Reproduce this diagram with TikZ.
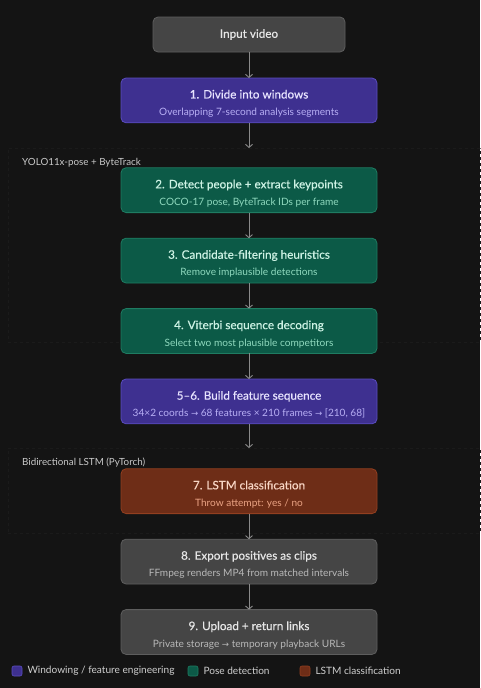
\documentclass[tikz,border=0pt]{standalone}
\usepackage{xcolor}
\usepackage{fontspec}
\setmainfont{Lato}
\newfontfamily\titlefont{Lato}[FakeBold=0.5]
\newfontfamily\symfont{DejaVu Sans}
\usetikzlibrary{positioning, arrows.meta, calc}
\newcommand{\toarr}{{\symfont\fontsize{8.6}{10}\selectfont →}}

\definecolor{bgcol}{HTML}{141414}
\definecolor{grpline}{HTML}{1B1B1B}
\definecolor{grplabel}{HTML}{C9C9C9}
\definecolor{arrcol}{HTML}{8A8A8A}
\definecolor{greyfill}{HTML}{454545}
\definecolor{greydraw}{HTML}{5E5E5E}
\definecolor{greytitle}{HTML}{E6E6E6}
\definecolor{greytitlesub}{HTML}{B8B8B8}
\definecolor{winfill}{HTML}{3E3090}
\definecolor{windraw}{HTML}{5B4DC0}
\definecolor{wintitle}{HTML}{E8E4FF}
\definecolor{wintitlesub}{HTML}{B7AEF4}
\definecolor{posefill}{HTML}{0C5A47}
\definecolor{posedraw}{HTML}{1F7C62}
\definecolor{posetitle}{HTML}{CDF2E4}
\definecolor{posetitlesub}{HTML}{8FD9BE}
\definecolor{lstmfill}{HTML}{6E2D17}
\definecolor{lstmdraw}{HTML}{923F20}
\definecolor{lstmtitle}{HTML}{F8D5C4}
\definecolor{lstmtitlesub}{HTML}{EAA283}

\newcommand{\steptext}[3]{{\titlefont\fontsize{11.7}{14}\selectfont\color{#1}\rule{0pt}{15pt}#2}\\[5pt]{\fontsize{10.1}{12}\selectfont\color{#1sub}#3}}

\begin{document}
\begin{tikzpicture}[
    x = 1pt, y = 1pt, align = center,
    box/.style = {
      rectangle, rounded corners = 5pt, line width = 0.8pt,
      minimum width = 256pt, minimum height = 44.8pt,
      inner sep = 0pt, outer sep = 0pt
    },
    plain/.style = {box, fill = greyfill, draw = greydraw},
    windowing/.style = {box, fill = winfill, draw = windraw},
    pose/.style = {box, fill = posefill, draw = posedraw},
    lstm/.style = {box, fill = lstmfill, draw = lstmdraw},
    group/.style = {
      rectangle, draw = grpline, dashed, line width = 0.6pt,
      anchor = north west, inner sep = 0pt, outer sep = 0pt
    },
    grouplabel/.style = {
      anchor = west, inner sep = 0pt, text = grplabel,
      font = \fontsize{9.8}{12}\selectfont
    },
    flow/.style = {
      draw = arrcol, line width = 0.9pt,
      -{Straight Barb[length = 3pt, width = 7pt]}
    },
    swatch/.style = {
      rectangle, rounded corners = 2pt, minimum size = 10pt,
      inner sep = 0pt, line width = 0.6pt
    },
    legtext/.style = {
      anchor = west, inner sep = 0pt, text = greytitle!90!black,
      font = \fontsize{10.1}{12}\selectfont
    },
    ]
\fill [bgcol] (0,0) rectangle (480,-688);
\useasboundingbox (0,0) rectangle (480,-688);

% groups
\node  [group, minimum width = 472pt, minimum height = 194pt]  (grp_pose)  at (8,-148)  {};
\node  [group, minimum width = 472pt, minimum height = 85pt]  (grp_lstm)  at (8,-448)  {};
\node  [grouplabel]  (lab_pose)  at ($(grp_pose.north west)+(14,-15)$)  {YOLO11x-pose + ByteTrack};
\node  [grouplabel]  (lab_lstm)  at ($(grp_lstm.north west)+(14,-15)$)  {Bidirectional LSTM (PyTorch)};

% steps
\node  [plain, minimum width = 192pt, minimum height = 35pt, font = \titlefont\fontsize{11.7}{14}\selectfont, text = greytitle]  (input)  at (249,-34.5)  {Input video};
\node  [windowing]  (divide)  [below = 26pt of input]
  {\steptext{wintitle}{1. Divide into windows}{Overlapping 7-second analysis segments}};
\node  [pose]  (detect)  [below = 45pt of divide]
  {\steptext{posetitle}{2. Detect people + extract keypoints}{COCO-17 pose, ByteTrack IDs per frame}};
\node  [pose]  (filter)  [below = 25.6pt of detect]
  {\steptext{posetitle}{3. Candidate-filtering heuristics}{Remove implausible detections}};
\node  [pose]  (viterbi)  [below = 25.6pt of filter]
  {\steptext{posetitle}{4. Viterbi sequence decoding}{Select two most plausible competitors}};
\node  [windowing]  (features)  [below = 25.6pt of viterbi]
  {\steptext{wintitle}{5–6. Build feature sequence}{34×2 coords \toarr{} 68 features × 210 frames \toarr{} [210, 68]}};
\node  [lstm]  (classify)  [below = 45pt of features]
  {\steptext{lstmtitle}{7. LSTM classification}{Throw attempt: yes / no}};
\node  [plain]  (export)  [below = 25.6pt of classify]
  {\steptext{greytitle}{8. Export positives as clips}{FFmpeg renders MP4 from matched intervals}};
\node  [plain]  (upload)  [below = 25.6pt of export]
  {\steptext{greytitle}{9. Upload + return links}{Private storage \toarr{} temporary playback URLs}};

% flow
\draw  [flow]  (input.south)  --  (divide.north);
\draw  [flow]  (divide.south)  --  (divide.south |- grp_pose.north);
\draw  [flow]  (detect.south)  --  (filter.north);
\draw  [flow]  (filter.south)  --  (viterbi.north);
\draw  [flow]  (viterbi.south)  --  (features.north);
\draw  [flow]  (features.south)  --  (features.south |- grp_lstm.north);
\draw  [flow]  (classify.south)  --  (export.north);
\draw  [flow]  (export.south)  --  (upload.north);

% legend
\node  [swatch, fill = winfill, draw = windraw]  (sw_win)  at (17,-671)  {};
\node  [legtext]  (leg_win)  [right = 5pt of sw_win]  {Windowing / feature engineering};
\node  [swatch, fill = posefill, draw = posedraw]  (sw_pose)  at (193,-671)  {};
\node  [legtext]  (leg_pose)  [right = 5pt of sw_pose]  {Pose detection};
\node  [swatch, fill = lstmfill, draw = lstmdraw]  (sw_lstm)  at (305,-671)  {};
\node  [legtext]  (leg_lstm)  [right = 5pt of sw_lstm]  {LSTM classification};

\end{tikzpicture}
\end{document}
